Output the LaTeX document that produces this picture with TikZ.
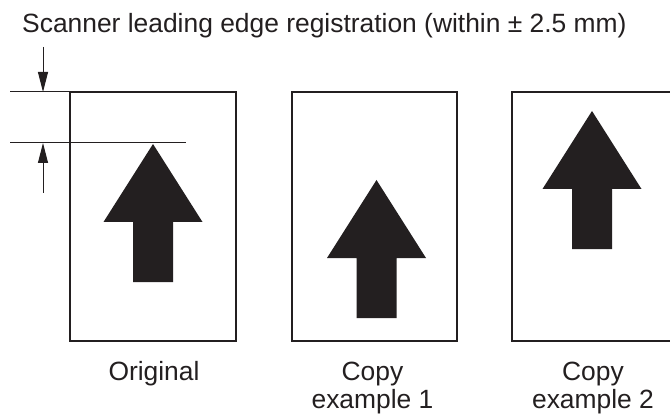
\documentclass[tikz,border=0pt]{standalone}
\usepackage{fontspec}
\setmainfont{Liberation Sans}
\usetikzlibrary{arrows.meta}
\definecolor{ink}{RGB}{35,31,32}
\tikzset{
  sheet/.style={draw=ink, line width=1.3pt, inner sep=0pt, outer sep=0pt, minimum width=166pt, minimum height=249pt},
  bigarrow/.style={fill=ink},
  thinline/.style={draw=ink, line width=1pt},
  dimarrow/.style={draw=ink, line width=1pt, -{Triangle[length=20pt,width=10pt]}},
  lbl/.style={font=\fontsize{26.4}{28}\selectfont, text=ink, inner sep=0pt, align=center, anchor=base}
}
\newcommand{\uparrowshape}[2]{%
  \fill[bigarrow] (#1,#2) -- ++(49.5,78) -- ++(-29.5,0) -- ++(0,60) -- ++(-40,0) -- ++(0,-60) -- ++(-29.5,0) -- cycle;}
\begin{document}
\begin{tikzpicture}[x=1pt,y=-1pt]
\useasboundingbox (0,0) rectangle (670,417);
\clip (0,0) rectangle (670,417);
\fill[white] (0,0) rectangle (670,417);
% title
\node[lbl, anchor=base west] (title) at (22,33) {Scanner leading edge registration (within \textpm{} 2.5 mm)};
% sheets
\node[sheet] (orig) at (153,216.5) {};
\node[sheet, minimum width=165pt] (copy1) at (374.5,216.5) {};
\node[sheet] (copy2) at (595,216.5) {};
% big arrows
\uparrowshape{153}{144}
\uparrowshape{376.5}{180}
\uparrowshape{592}{111}
% reference lines
\coordinate (l1a) at (10,92);
\draw[thinline] (l1a) -- (orig.north west);
\coordinate (l2a) at (10,143);
\coordinate (l2b) at (186,143);
\draw[thinline] (l2a) -- (l2b);
% dimension arrows
\coordinate (d1s) at (43,47);
\coordinate (d1e) at (43,92);
\coordinate (d2s) at (43,193);
\coordinate (d2e) at (43,143);
\draw[dimarrow] (d1s) -- (d1e);
\draw[dimarrow] (d2s) -- (d2e);
% labels
\node[lbl] (lorig) at (154,380) {Original};
\node[lbl] (lc1) at (372.5,408) {Copy\\example 1};
\node[lbl] (lc2) at (593,408) {Copy\\example 2};
\end{tikzpicture}
\end{document}
